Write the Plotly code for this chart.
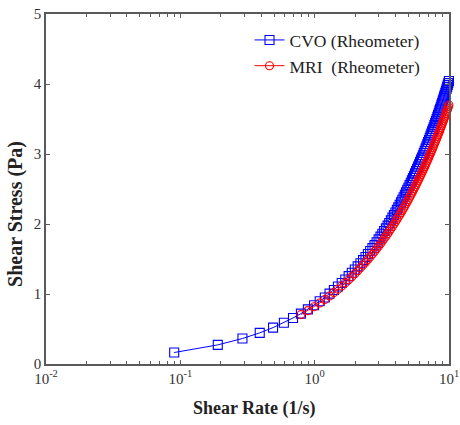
import plotly.graph_objects as go

cvo_rate = [0.09, 0.19, 0.29, 0.39, 0.49, 0.59, 0.69, 0.79, 0.89, 0.99,
            1.09, 1.19, 1.29, 1.39, 1.49, 1.59, 1.69, 1.79, 1.89, 1.99,
            2.09, 2.19, 2.29, 2.39, 2.49, 2.59, 2.69, 2.79, 2.89, 2.99,
            3.09, 3.19, 3.29, 3.39, 3.49, 3.59, 3.69, 3.79, 3.89, 3.99,
            4.09, 4.19, 4.29, 4.39, 4.49, 4.59, 4.69, 4.79, 4.89, 4.99,
            5.09, 5.19, 5.29, 5.39, 5.49, 5.59, 5.69, 5.79, 5.89, 5.99,
            6.09, 6.19, 6.29, 6.39, 6.49, 6.59, 6.69, 6.79, 6.89, 6.99,
            7.09, 7.19, 7.29, 7.39, 7.49, 7.59, 7.69, 7.79, 7.89, 7.99,
            8.09, 8.19, 8.29, 8.39, 8.49, 8.59, 8.69, 8.79, 8.89, 8.99,
            9.09, 9.19, 9.29, 9.39, 9.49, 9.59, 9.69, 9.79, 9.89, 9.99]
cvo_stress = [0.164, 0.273, 0.364, 0.445, 0.520, 0.590, 0.657, 0.720, 0.781, 0.839,
              0.896, 0.951, 1.005, 1.057, 1.108, 1.158, 1.207, 1.255, 1.303, 1.349,
              1.395, 1.440, 1.484, 1.528, 1.571, 1.614, 1.656, 1.698, 1.739, 1.780,
              1.820, 1.860, 1.899, 1.938, 1.977, 2.015, 2.053, 2.091, 2.128, 2.165,
              2.202, 2.238, 2.275, 2.311, 2.346, 2.382, 2.417, 2.452, 2.487, 2.521,
              2.555, 2.589, 2.623, 2.657, 2.690, 2.723, 2.756, 2.789, 2.822, 2.854,
              2.887, 2.919, 2.951, 2.983, 3.014, 3.046, 3.077, 3.108, 3.140, 3.170,
              3.201, 3.232, 3.262, 3.293, 3.323, 3.353, 3.383, 3.413, 3.442, 3.472,
              3.501, 3.531, 3.560, 3.589, 3.619, 3.647, 3.676, 3.705, 3.733, 3.762,
              3.790, 3.819, 3.847, 3.875, 3.903, 3.931, 3.959, 3.987, 4.014, 4.042]

mri_rate = [0.79, 0.89, 0.99,
            1.09, 1.19, 1.29, 1.39, 1.49, 1.59, 1.69, 1.79, 1.89, 1.99,
            2.09, 2.19, 2.29, 2.39, 2.49, 2.59, 2.69, 2.79, 2.89, 2.99,
            3.09, 3.19, 3.29, 3.39, 3.49, 3.59, 3.69, 3.79, 3.89, 3.99,
            4.09, 4.19, 4.29, 4.39, 4.49, 4.59, 4.69, 4.79, 4.89, 4.99,
            5.09, 5.19, 5.29, 5.39, 5.49, 5.59, 5.69, 5.79, 5.89, 5.99,
            6.09, 6.19, 6.29, 6.39, 6.49, 6.59, 6.69, 6.79, 6.89, 6.99,
            7.09, 7.19, 7.29, 7.39, 7.49, 7.59, 7.69, 7.79, 7.89, 7.99,
            8.09, 8.19, 8.29, 8.39, 8.49, 8.59, 8.69, 8.79, 8.89, 8.99,
            9.09, 9.19, 9.29, 9.39, 9.49, 9.59, 9.69, 9.79, 9.89, 9.99]
mri_stress = [0.706, 0.763, 0.818,
              0.871, 0.922, 0.972, 1.020, 1.068, 1.114, 1.159, 1.204, 1.247, 1.290,
              1.332, 1.373, 1.414, 1.454, 1.493, 1.532, 1.570, 1.608, 1.646, 1.683,
              1.719, 1.755, 1.791, 1.826, 1.862, 1.896, 1.931, 1.965, 1.998, 2.032,
              2.065, 2.098, 2.130, 2.162, 2.194, 2.226, 2.258, 2.289, 2.320, 2.351,
              2.382, 2.412, 2.443, 2.472, 2.502, 2.532, 2.562, 2.591, 2.620, 2.649,
              2.678, 2.706, 2.735, 2.763, 2.791, 2.819, 2.847, 2.875, 2.903, 2.930,
              2.957, 2.984, 3.011, 3.038, 3.065, 3.092, 3.118, 3.145, 3.171, 3.197,
              3.223, 3.249, 3.275, 3.300, 3.326, 3.352, 3.377, 3.403, 3.428, 3.453,
              3.478, 3.503, 3.528, 3.553, 3.577, 3.602, 3.626, 3.651, 3.675, 3.699]

x_tick_vals = [0.01, 0.1, 1, 10]
x_tick_text = ["10<sup>-2</sup>", "10<sup>-1</sup>", "10<sup>0</sup>", "10<sup>1</sup>"]
y_tick_vals = [0, 1, 2, 3, 4, 5]

SERIF = "Liberation Serif"

fig = go.Figure()
fig.add_trace(go.Scatter(
    x=cvo_rate, y=cvo_stress, mode="lines+markers", name="CVO (Rheometer)",
    line=dict(color="#0000ff", width=1),
    marker=dict(symbol="square-open", size=9, color="#0000ff", line=dict(width=1.1)),
    cliponaxis=False,
))
fig.add_trace(go.Scatter(
    x=mri_rate, y=mri_stress, mode="lines+markers", name="MRI  (Rheometer)",
    line=dict(color="#ff0000", width=1),
    marker=dict(symbol="circle-open", size=8, color="#ff0000", line=dict(width=1.1)),
    cliponaxis=False,
))

axis_common = dict(
    showline=True, linecolor="#5a5a5a", linewidth=1.5, mirror="ticks",
    ticks="inside", ticklen=4, tickcolor="#5a5a5a", tickwidth=1,
    showgrid=False, zeroline=False, automargin=False,
    tickfont=dict(family=SERIF, size=15, color="#333333"),
)

fig.update_xaxes(
    type="log", range=[-2, 1],
    tickvals=x_tick_vals, ticktext=x_tick_text,
    minor=dict(ticks="inside", ticklen=3, tickcolor="#5a5a5a", showgrid=False, dtick="D1"),
    title=dict(text="&nbsp;&nbsp;&nbsp;<b>Shear Rate (1/s)</b>",
               font=dict(family=SERIF, size=18, color="#222222"), standoff=16),
    **axis_common,
)
fig.update_yaxes(
    range=[0, 5], tickvals=y_tick_vals,
    title=dict(text="<b>Shear Stress (Pa)</b>" + "&nbsp;" * 10,
               font=dict(family=SERIF, size=20, color="#222222"), standoff=6),
    **axis_common,
)

fig.update_layout(
    width=460, height=425,
    margin=dict(l=46, r=11, t=14, b=61, autoexpand=False),
    paper_bgcolor="white", plot_bgcolor="white",
    showlegend=True,
    legend=dict(
        x=0.505, y=0.977, xanchor="left", yanchor="top",
        bgcolor="rgba(0,0,0,0)", borderwidth=0,
        font=dict(family=SERIF, size=17.5, color="#222222"),
        tracegroupgap=0,
    ),
)

fig.write_html("out.html", config={"displayModeBar": False},
               post_script="document.body.style.margin='0px';")
